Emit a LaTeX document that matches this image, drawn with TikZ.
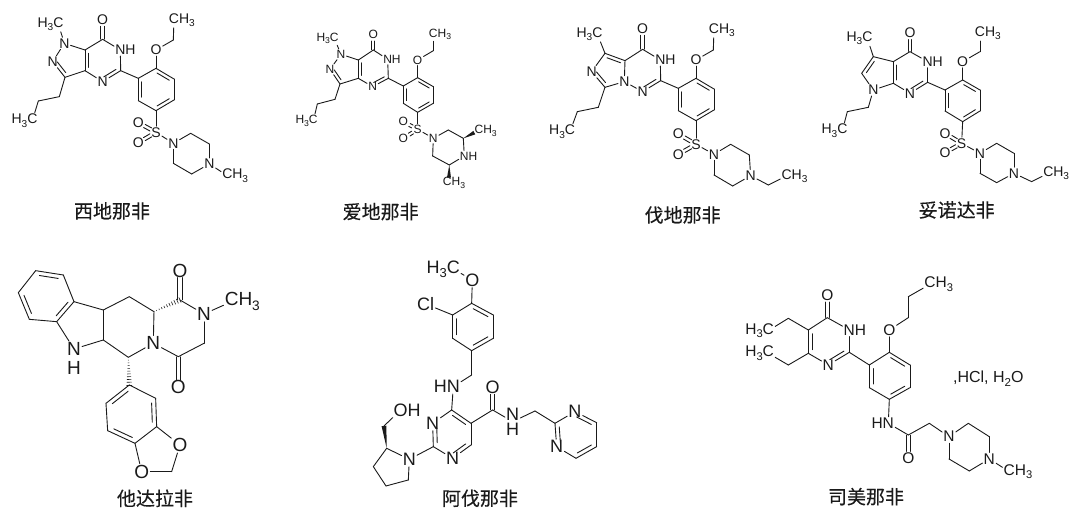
\documentclass[tikz,border=0pt]{standalone}
\usepackage{fontspec}
\setmainfont{Liberation Sans}
\newfontfamily\cjk[FakeBold=0.3]{Noto Sans CJK SC}
\usetikzlibrary{calc}
\definecolor{ink}{HTML}{1A1A1A}
\def\afs{14}
\def\dgap{3.5pt}
\tikzset{
  atom/.style={inner sep=.8pt,text=ink,font=\fontsize{\afs}{\afs}\selectfont},
  captext/.style={inner sep=0pt,text=ink,font=\cjk\fontsize{19}{19}\selectfont},
  mol/.style 2 args={xshift=#1pt,yshift=-#2pt,x=.3333pt,y=-.3333pt}
}
\newcommand\subn[1]{\raisebox{-.24em}{\scalebox{.72}{#1}}}
\newcommand\C[1]{\foreach \n/\x/\y in {#1} \coordinate (\n) at (\x,\y);}
\newcommand\A[3]{\node[atom] (#1) at (#2) {#3};}
\newcommand\B[1]{\foreach \p/\q in {#1} \draw (\p)--(\q);}
\newcommand\dR[2]{\draw ($(#1)!.16!(#2)!\dgap!-90:(#2)$)--($(#2)!.16!(#1)!\dgap!90:(#1)$);}
\newcommand\dS[3][.25pt]{\draw ($(#2)!#1!(#3)!.5*\dgap!90:(#3)$)--($(#3)!7pt!(#2)!.5*\dgap!-90:(#2)$);
                  \draw ($(#2)!#1!(#3)!.5*\dgap!-90:(#3)$)--($(#3)!7pt!(#2)!.5*\dgap!90:(#2)$);}
\newcommand\wdg[3]{\fill[ink] (#1)--($(#2)!#3!90:(#1)$)--($(#2)!#3!-90:(#1)$)--cycle;}
\newcommand\hash[3]{\foreach \t in {.1,.2,...,1.0}{\draw[line width=.6pt] ($(#1)!\t!(#2)!\t*#3!90:(#2)$)--($(#1)!\t!(#2)!\t*#3!-90:(#2)$);}}
\newcommand\CH{C\rlap{H\subn{3}}}
\newcommand\HC{\llap{H\subn{3}}C}
\newcommand\NH{N\rlap{H}}
\newcommand\HN{\llap{H}N}
\begin{document}
\begin{tikzpicture}[x=1pt,y=-1pt,line width=.9pt,line cap=round,line join=round,draw=ink]
\useasboundingbox (0,0) rectangle (1080,521);
\fill[white] (0,0) rectangle (1080,521);

% --- sildenafil
\begin{scope}[mol={0}{0}]
\C{C3/195/232,C3a/255/212,C7a/255/150,C7/308/118,C5/362/212,Pa/178/290,Pb/115/303,
   P1/415/235,P2/468/205,P3/522/237,P4/522/300,P5/468/332,P6/415/302,Et/520/120,
   Q1/572/400,Q2/628/432,Q3/575/522,Q4/520/490}
\A{Me}{175,72}{\HC}\A{N1}{193,130}{N}\A{N2}{158,185}{N}\A{O7}{308,58}{O}\A{N6}{361,150}{\NH}
\A{N4}{308,245}{N}\A{Pc}{97,362}{\HC}\A{O}{468,150}{O}\A{Ec}{522,60}{\CH}\A{S}{468,397}{S}
\A{Oa}{415,368}{O}\A{Ob}{415,428}{O}\A{Na}{520,430}{N}\A{Nb}{628,492}{N}\A{Mc}{682,527}{\CH}
\B{Me/N1,N1/N2,N2/C3,C3/C3a,C3a/C7a,C7a/N1,C7a/C7,C7/N6,N6/C5,C5/N4,N4/C3a,C3/Pa,Pa/Pb,Pb/Pc,C5/P1,
   P1/P2,P2/P3,P3/P4,P4/P5,P5/P6,P6/P1,P2/O,O/Et,Et/Ec,P5/S,S/Na,Na/Q1,Q1/Q2,Q2/Nb,Nb/Q3,Q3/Q4,Q4/Na,Nb/Mc}
\dS{C7}{O7}\dS[6pt]{S}{Oa}\dS[6pt]{S}{Ob}
\dR{C3}{N2}\dR{C3a}{C7a}\dR{C5}{N4}\dR{P2}{P3}\dR{P4}{P5}\dR{P6}{P1}
\node[captext] (t1) at (336,633) {西地那非};
\end{scope}

% --- aildenafil
\begin{scope}[mol={280}{10}]
\def\afs{12}\def\dgap{3.2pt}
\C{C3/180/222,C3a/235/205,C7a/235/150,C7/280/120,C5/325/205,Pa/165/268,Pb/112/282,
   P1/370/228,P2/413/203,P3/460/230,P4/460/280,P5/413/307,P6/370/280,Et/460/122,
   Q1/505/360,Q2/550/385,Q3/508/465,Q4/458/438,Wa/583/368,Wb/507/503}
\A{Me}{163,85}{\HC}\A{N1}{183,133}{N}\A{N2}{150,178}{N}\A{O7}{280,72}{O}\A{N6}{323,148}{\NH}
\A{N4}{278,230}{N}\A{Pc}{100,333}{\HC}\A{O}{413,150}{O}\A{Ec}{460,73}{\CH}\A{S}{413,358}{S}
\A{Oa}{370,335}{O}\A{Ob}{370,385}{O}\A{Na}{460,385}{N}\A{Nb}{553,438}{\NH}
\A{Ma}{597,362}{\CH}\A{Mb}{502,518}{\CH}
\B{Me/N1,N1/N2,N2/C3,C3/C3a,C3a/C7a,C7a/N1,C7a/C7,C7/N6,N6/C5,C5/N4,N4/C3a,C3/Pa,Pa/Pb,Pb/Pc,C5/P1,
   P1/P2,P2/P3,P3/P4,P4/P5,P5/P6,P6/P1,P2/O,O/Et,Et/Ec,P5/S,S/Na,Na/Q1,Q1/Q2,Q2/Nb,Nb/Q3,Q3/Q4,Q4/Na}
\dS{C7}{O7}\dS[6pt]{S}{Oa}\dS[6pt]{S}{Ob}
\dR{C3}{N2}\dR{C3a}{C7a}\dR{C5}{N4}\dR{P2}{P3}\dR{P4}{P5}\dR{P6}{P1}
\wdg{Q2}{Wa}{2pt}\wdg{Q3}{Wb}{2pt}
\node[captext] (t2) at (302,605) {爱地那非};
\end{scope}

% --- vardenafil
\begin{scope}[mol={540}{10}]
\C{C5/195/130,C4a/255/152,C7/195/232,C4/308/118,C2/362/212,Pa/175/292,Pb/112/305,
   P1/415/235,P2/468/205,P3/522/237,P4/522/300,P5/468/332,P6/415/302,Et/520/120,
   Q1/572/403,Q2/628/435,Q3/578/528,Q4/522/495,Ea/685/525}
\A{Me}{172,72}{\HC}\A{N6}{155,185}{N}\A{N8}{253,215}{N}\A{N1}{308,245}{N}\A{O4}{308,55}{O}
\A{N3}{361,150}{\NH}\A{Pc}{90,365}{\HC}\A{O}{468,150}{O}\A{Ec}{522,60}{\CH}\A{S}{468,403}{S}
\A{Oa}{415,372}{O}\A{Ob}{415,433}{O}\A{Na}{522,433}{N}\A{Nb}{632,497}{N}\A{Mc}{740,498}{\CH}
\B{Me/C5,C5/C4a,C4a/N8,N8/C7,C7/N6,N6/C5,N8/N1,N1/C2,C2/N3,N3/C4,C4/C4a,C7/Pa,Pa/Pb,Pb/Pc,C2/P1,
   P1/P2,P2/P3,P3/P4,P4/P5,P5/P6,P6/P1,P2/O,O/Et,Et/Ec,P5/S,S/Na,Na/Q1,Q1/Q2,Q2/Nb,Nb/Q3,Q3/Q4,Q4/Na,Nb/Ea,Ea/Mc}
\dS{C4}{O4}\dS[6pt]{S}{Oa}\dS[6pt]{S}{Ob}
\dR{C5}{C4a}\dR{C7}{N6}\dR{C2}{N1}\dR{P2}{P3}\dR{P4}{P5}\dR{P6}{P1}
\node[captext] (t3) at (428,615) {伐地那非};
\end{scope}

% --- fourth analogue
\begin{scope}[mol={810}{10}]
\C{C5/190/140,C4a/250/155,C7a/250/220,C6/155/190,C4/300/125,C2/353/217,Pa/175/292,Pb/112/305,
   P1/405/240,P2/458/210,P3/510/240,P4/510/303,P5/458/335,P6/405/303,Et/510/125,
   Q1/560/400,Q2/612/430,Q3/560/518,Q4/510/490,Ea/665/515}
\A{Me}{172,85}{\HC}\A{N7}{190,240}{N}\A{O4}{300,68}{O}\A{N3}{353,155}{\NH}\A{N1}{300,250}{N}
\A{Pc}{97,362}{\HC}\A{O}{458,155}{O}\A{Ec}{510,70}{\CH}\A{S}{455,400}{S}
\A{Oa}{405,370}{O}\A{Ob}{405,428}{O}\A{Na}{510,430}{N}\A{Nb}{612,490}{N}\A{Mc}{715,490}{\CH}
\B{Me/C5,C5/C4a,C4a/C7a,C7a/N7,N7/C6,C6/C5,C7a/N1,N1/C2,C2/N3,N3/C4,C4/C4a,N7/Pa,Pa/Pb,Pb/Pc,C2/P1,
   P1/P2,P2/P3,P3/P4,P4/P5,P5/P6,P6/P1,P2/O,O/Et,Et/Ec,P5/S,S/Na,Na/Q1,Q1/Q2,Q2/Nb,Nb/Q3,Q3/Q4,Q4/Na,Nb/Ea,Ea/Mc}
\dS{C4}{O4}\dS[6pt]{S}{Oa}\dS[6pt]{S}{Ob}
\dR{C6}{C5}\dR{C7a}{C4a}\dR{C2}{N1}\dR{P2}{P3}\dR{P4}{P5}\dR{P6}{P1}
\node[captext] (t4) at (440,600) {妥诺达非};
\end{scope}

% --- tadalafil
\begin{scope}[mol={0}{250}]
\def\afs{19}\def\dgap{4.2pt}
\C{a/55/128,b/107/62,c/190/75,d/222/155,e/170/215,f/88/208,g/310/180,h/310/270,i/388/140,j/462/185,
   k/385/322,l/535/320,m/612/280,n/540/150,
   T/388/405,R1/467/445,R2/470/530,Bt/405/580,L2/323/542,L1/318/460,Cm/515/665}
\A{Nh}{222,297}{N}\node[atom] (Hh) at (222,355) {H};
\A{Nc}{460,280}{N}\A{Oa}{535,412}{O}\A{Nm}{612,192}{N}\A{Ob}{540,62}{O}\A{Me}{695,155}{\CH}
\A{O1}{540,585}{O}\A{O2}{425,665}{O}
\B{a/b,b/c,c/d,d/e,e/f,f/a,d/g,e/Nh,Nh/h,g/h,h/k,g/i,i/j,j/Nc,k/Nc,Nc/l,l/m,m/Nm,Nm/n,Nm/Me,
   T/R1,R1/R2,R2/Bt,Bt/L2,L2/L1,L1/T,R2/O1,Bt/O2,O1/Cm,Cm/O2}
\dS{l}{Oa}\dS{n}{Ob}
\dR{b}{c}\dR{d}{e}\dR{f}{a}\dR{L1}{T}\dR{R1}{R2}\dR{Bt}{L2}
\hash{j}{n}{2.6pt}\hash{k}{T}{2.6pt}
\node[captext] (t5) at (465,745) {他达拉非};
\end{scope}

% --- avanafil
\begin{scope}[mol={360}{250}]
\def\afs{18}\def\dgap{4pt}
\C{t/335/160,r1/400/195,r2/400/265,b/335/302,l2/278/265,l1/278/195,Bz/335/375,
   C4/275/480,C5/333/520,C6/333/585,C2/220/590,Am/398/480,Ca/525/483,Y1/585/520,Y3/710/518,Y4/710/590,Y5/648/625,
   Z1/80/595,Z2/40/650,Z3/78/708,Z4/145/690,Ch/72/528}
\A{Me}{280,57}{\HC}\A{O}{337,90}{O}\A{Cl}{197,162}{Cl}\A{Nh}{280,410}{\HN}
\A{N1}{278,625}{N}\A{N3}{218,520}{N}\A{Oa}{398,412}{O}\A{Na}{458,515}{\rlap{\raisebox{-15pt}{H}}N}
\A{Yn}{645,485}{N}\A{Ym}{590,590}{N}\A{Np}{148,628}{N}\A{Oh}{122,480}{O\rlap{H}}
\B{Me/O,O/t,t/r1,r1/r2,r2/b,b/l2,l2/l1,l1/t,l1/Cl,b/Bz,Bz/Nh,Nh/C4,C4/C5,C5/C6,C6/N1,N1/C2,C2/N3,N3/C4,
   C5/Am,Am/Na,Na/Ca,Ca/Y1,Y1/Yn,Yn/Y3,Y3/Y4,Y4/Y5,Y5/Ym,Ym/Y1,C2/Np,Np/Z1,Z1/Z2,Z2/Z3,Z3/Z4,Z4/Np,Ch/Oh}
\dS{Am}{Oa}
\dR{t}{r1}\dR{r2}{b}\dR{l2}{l1}\dR{C4}{C5}\dR{C6}{N1}\dR{C2}{N3}\dR{Yn}{Y3}\dR{Y4}{Y5}\dR{Ym}{Y1}
\wdg{Z1}{Ch}{2.4pt}
\node[captext] (t6) at (360,745) {阿伐那非};
\end{scope}

% --- udenafil
\begin{scope}[mol={730}{265}]
\def\afs{15.5}\def\dgap{3.8pt}
\C{C4/292/158,C2/358/262,C6/235/265,C5/235/195,Ea/175/160,Eb/175/300,
   P1/418/300,P2/478/262,P3/540/300,P4/540/368,P5/478/403,P6/418/368,Pa/535/158,Pb/535/95,
   Am/535/510,Ab/598/475,Q1/715/475,Q2/778/515,Q3/718/618,Q4/657/582}
\A{O4}{292,90}{O}\A{N3}{358,195}{\NH}\A{N1}{295,300}{N}\A{Ma}{115,197}{\HC}\A{Mb}{115,265}{\HC}
\A{O}{478,195}{O}\A{Pc}{600,58}{\CH}\A{Nh}{475,475}{\HN}\A{Oa}{535,580}{O}\A{Na}{657,515}{N}
\A{Nb}{778,582}{N}\A{Mc}{838,620}{\CH}
\B{C4/N3,N3/C2,C2/N1,N1/C6,C6/C5,C5/C4,C5/Ea,Ea/Ma,C6/Eb,Eb/Mb,C2/P1,P1/P2,P2/P3,P3/P4,P4/P5,P5/P6,P6/P1,
   P2/O,O/Pa,Pa/Pb,Pb/Pc,P5/Nh,Nh/Am,Am/Ab,Ab/Na,Na/Q1,Q1/Q2,Q2/Nb,Nb/Q3,Q3/Q4,Q4/Na,Nb/Mc}
\dS{C4}{O4}\dS{Am}{Oa}
\dR{C6}{C5}\dR{C2}{N1}\dR{P2}{P3}\dR{P4}{P5}\dR{P6}{P1}
\node[atom,font=\fontsize{16}{16}\selectfont] (salt) at (775,340) {,HCl, H\subn{2}O};
\node[captext] (t7) at (408,695) {司美那非};
\end{scope}
\end{tikzpicture}
\end{document}
